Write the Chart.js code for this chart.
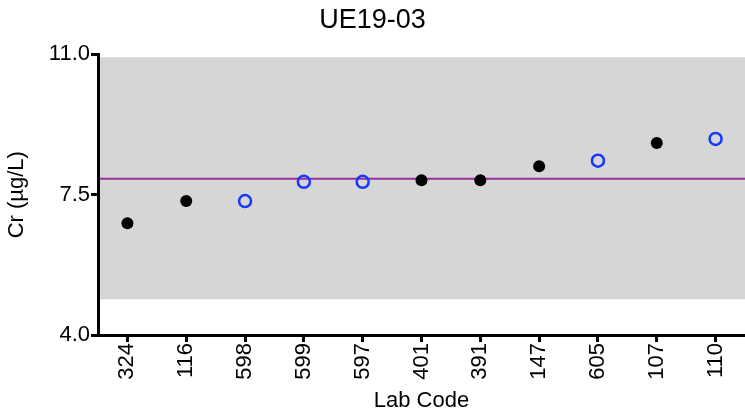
<!DOCTYPE html>
<html>
<head>
<meta charset="utf-8">
<title>UE19-03</title>
<script src="https://cdn.jsdelivr.net/npm/chart.js@4"></script>
<style>
    body { margin: 0; background: #fff; }
    #wrap { width: 745px; height: 414px; }
</style>
</head>
<body>
<div id="wrap"><canvas id="crChart"></canvas></div>
<script>
// Lab results, in the order plotted
const labCodes = ['324', '116', '598', '599', '597', '401', '391', '147', '605', '107', '110'];
const crValues = [6.79, 7.34, 7.34, 7.82, 7.82, 7.86, 7.86, 8.21, 8.35, 8.79, 8.89];
// true = drawn as open blue circle
const openMarker = [false, false, true, true, true, false, false, false, true, false, true];

// Assigned value and acceptance range
const assignedValue = 7.90;
const rangeLow = 4.89;
const rangeHigh = 10.93;

const yTicks = [4.0, 7.5, 11.0];

const filledPoints = crValues.map((v, i) => openMarker[i] ? null : v);
const openPoints = crValues.map((v, i) => openMarker[i] ? v : null);

// Gray acceptance band and purple assigned value line
const bandPlugin = {
    id: 'band',
    beforeDraw(chart) {
        const { ctx, chartArea, scales } = chart;
        const y = scales.y;
        const top = y.getPixelForValue(rangeHigh);
        const bottom = y.getPixelForValue(rangeLow);
        ctx.save();
        ctx.fillStyle = '#d6d6d6';
        ctx.fillRect(chartArea.left, top, chartArea.right - chartArea.left, bottom - top);
        const ly = y.getPixelForValue(assignedValue);
        ctx.strokeStyle = '#9b2d9b';
        ctx.lineWidth = 2;
        ctx.beginPath();
        ctx.moveTo(chartArea.left, ly);
        ctx.lineTo(chartArea.right, ly);
        ctx.stroke();
        ctx.restore();
    }
};

const fontFamily = '"Liberation Sans", Arial, sans-serif';

new Chart(document.getElementById('crChart'), {
    type: 'line',
    data: {
        labels: labCodes,
        datasets: [
            {
                data: filledPoints,
                showLine: false,
                pointRadius: 6,
                pointBackgroundColor: '#000',
                pointBorderColor: '#000',
                pointBorderWidth: 0
            },
            {
                data: openPoints,
                showLine: false,
                pointRadius: 6,
                pointBackgroundColor: 'rgba(0,0,0,0)',
                pointBorderColor: '#1438ff',
                pointBorderWidth: 2.5
            }
        ]
    },
    options: {
        responsive: true,
        maintainAspectRatio: false,
        animation: false,
        layout: { padding: 0, autoPadding: false },
        plugins: {
            legend: { display: false },
            tooltip: { enabled: false },
            title: {
                display: true,
                text: 'UE19-03',
                color: '#000',
                font: { family: fontFamily, size: 27, weight: 'normal' },
                padding: { top: 4, bottom: 18 }
            }
        },
        scales: {
            x: {
                offset: true,
                border: { display: true, color: '#000', width: 3 },
                grid: {
                    display: true,
                    drawOnChartArea: false,
                    drawTicks: true,
                    tickLength: 7,
                    tickWidth: 3,
                    tickColor: '#000',
                    offset: false
                },
                ticks: {
                    color: '#000',
                    font: { family: fontFamily, size: 22 },
                    minRotation: 90,
                    maxRotation: 90,
                    autoSkip: false,
                    padding: 1
                },
                title: {
                    display: true,
                    text: 'Lab Code',
                    color: '#000',
                    font: { family: fontFamily, size: 22 },
                    padding: 0
                },
                afterFit(scale) {
                    scale.height = 79;
                    scale.paddingLeft = 0;
                    scale.paddingRight = 0;
                }
            },
            y: {
                min: 4,
                max: 11,
                border: { display: true, color: '#000', width: 3 },
                grid: {
                    display: true,
                    drawOnChartArea: false,
                    drawTicks: true,
                    tickLength: 7,
                    tickWidth: 3,
                    tickColor: '#000'
                },
                afterBuildTicks(scale) {
                    scale.ticks = yTicks.map(v => ({ value: v }));
                },
                ticks: {
                    color: '#000',
                    font: { family: fontFamily, size: 22 },
                    padding: 1,
                    callback: v => Number(v).toFixed(1)
                },
                title: {
                    display: true,
                    text: 'Cr (µg/L)',
                    color: '#000',
                    font: { family: fontFamily, size: 22 },
                    padding: { top: 4, bottom: 0 }
                },
                afterFit(scale) { scale.width = 98; }
            }
        }
    },
    plugins: [bandPlugin]
});
</script>
</body>
</html>
